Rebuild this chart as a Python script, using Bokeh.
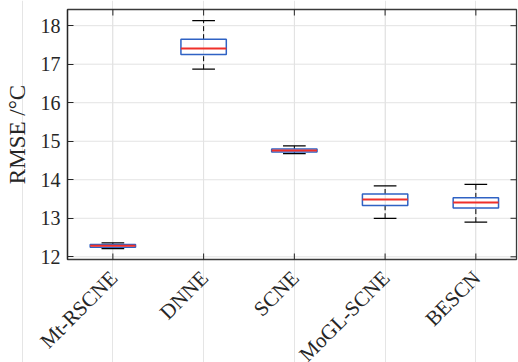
from bokeh.plotting import figure
from bokeh.models import FixedTicker, Range1d, ColumnDataSource
from bokeh.core.properties import value
from bokeh.embed import file_html
from bokeh.resources import INLINE
import math

# ---- data ----
methods = ["Mt-RSCNE", "DNNE", "SCNE", "MoGL-SCNE", "BESCN"]
positions = [1, 2, 3, 4, 5]
lower_whisker = [12.21, 16.87, 14.68, 13.00, 12.90]
q1 = [12.25, 17.25, 14.72, 13.33, 13.27]
median = [12.29, 17.41, 14.76, 13.49, 13.41]
q3 = [12.32, 17.65, 14.80, 13.63, 13.53]
upper_whisker = [12.36, 18.13, 14.88, 13.84, 13.88]
y_ticks = [12, 13, 14, 15, 16, 17, 18]

# ---- layout / style ----
box_width = 0.5
cap_width = 0.25
X0, X1 = 0.5, 5.448          # axes box limits
Y0, Y1 = 11.93, 18.42
BOX_W, BOX_H = 449, 250      # axes box size in px
PAD_LEFT, PAD_TOP, PAD_RIGHT, LABEL_AREA = 67, 9, 2, 103
TICK = 6
FONT = "Liberation Serif"
TXT = "#262626"
FRAME_C = "#3a3a3a"
GRID_C = "#e3e3e3"

px_x = BOX_W / (X1 - X0)
px_y = BOX_H / (Y1 - Y0)

src = ColumnDataSource(dict(
    x=positions, name=methods, ybase=[Y0] * len(positions),
    lw=lower_whisker, q1=q1, med=median, q3=q3, uw=upper_whisker,
    bx0=[x - box_width / 2 for x in positions],
    bx1=[x + box_width / 2 for x in positions],
    cx0=[x - cap_width / 2 for x in positions],
    cx1=[x + cap_width / 2 for x in positions],
))

p = figure(frame_width=PAD_LEFT + BOX_W + PAD_RIGHT,
           frame_height=PAD_TOP + BOX_H + LABEL_AREA,
           output_backend="svg", toolbar_location=None,
           x_range=Range1d(X0 - PAD_LEFT / px_x, X1 + PAD_RIGHT / px_x),
           y_range=Range1d(Y0 - LABEL_AREA / px_y, Y1 + PAD_TOP / px_y),
           x_axis_location=None,
           min_border_left=0, min_border_top=0, min_border_bottom=0, min_border_right=0)
p.background_fill_color = "white"
p.border_fill_color = "white"
p.outline_line_color = None
p.ygrid.visible = False

# grid lines limited to the axes box
n = len(positions)
m = len(y_ticks)
p.segment(x0=positions, x1=positions, y0=[Y0] * n, y1=[Y1] * n,
          line_color=GRID_C, line_width=1)
p.segment(x0=[X0] * m, x1=[X1] * m, y0=y_ticks, y1=y_ticks,
          line_color=GRID_C, line_width=1)

# axes box
p.quad(left=[X0], right=[X1], bottom=[Y0], top=[Y1], fill_color=None,
       line_color=FRAME_C, line_width=1.3)

# box-frame ticks (top, bottom at categories; right at y ticks), pointing inward
p.segment(x0=positions, x1=positions, y0=[Y1] * n, y1=[Y1 - TICK / px_y] * n,
          line_color=TXT, line_width=1)
p.segment(x0=positions, x1=positions, y0=[Y0] * n, y1=[Y0 + TICK / px_y] * n,
          line_color=TXT, line_width=1)
p.segment(x0=[X1] * m, x1=[X1 - TICK / px_x] * m, y0=y_ticks, y1=y_ticks,
          line_color=TXT, line_width=1)

# whiskers (dashed) and caps
p.segment(x0="x", y0="q3", x1="x", y1="uw", source=src, line_color="black",
          line_width=1, line_dash="5 3")
p.segment(x0="x", y0="lw", x1="x", y1="q1", source=src, line_color="black",
          line_width=1, line_dash="5 3")
p.segment(x0="cx0", y0="uw", x1="cx1", y1="uw", source=src, line_color="black", line_width=1.2)
p.segment(x0="cx0", y0="lw", x1="cx1", y1="lw", source=src, line_color="black", line_width=1.2)
# boxes
p.quad(left="bx0", right="bx1", bottom="q1", top="q3", source=src,
       fill_color=None, line_color="#2f62c4", line_width=1.5)
# medians
p.segment(x0="bx0", y0="med", x1="bx1", y1="med", source=src, line_color="#f0302a", line_width=2)

# category labels under the axes box, rotated 45 degrees
p.text(x="x", y="ybase", text="name", source=src, angle=math.pi / 4,
       text_align="right", text_baseline="middle", x_offset=1, y_offset=15,
       text_font=value(FONT), text_font_size=value("21px"), text_color=TXT)

# y axis, pinned to the left edge of the axes box
ya = p.yaxis[0]
ya.fixed_location = X0
ya.bounds = (Y0, Y1)
ya.ticker = FixedTicker(ticks=y_ticks)
ya.axis_label = "RMSE /°C"
ya.axis_line_color = TXT
ya.axis_line_width = 1.3
ya.major_tick_in = TICK
ya.major_tick_out = 0
ya.minor_tick_line_color = None
ya.major_tick_line_color = TXT
ya.major_label_text_font = FONT
ya.major_label_text_font_size = "20px"
ya.major_label_text_color = TXT
ya.major_label_standoff = 7
ya.axis_label_text_font = FONT
ya.axis_label_text_font_size = "23px"
ya.axis_label_text_font_style = "normal"
ya.axis_label_text_color = TXT
ya.axis_label_standoff = 8

open("out.html", "w").write(file_html(p, INLINE))
